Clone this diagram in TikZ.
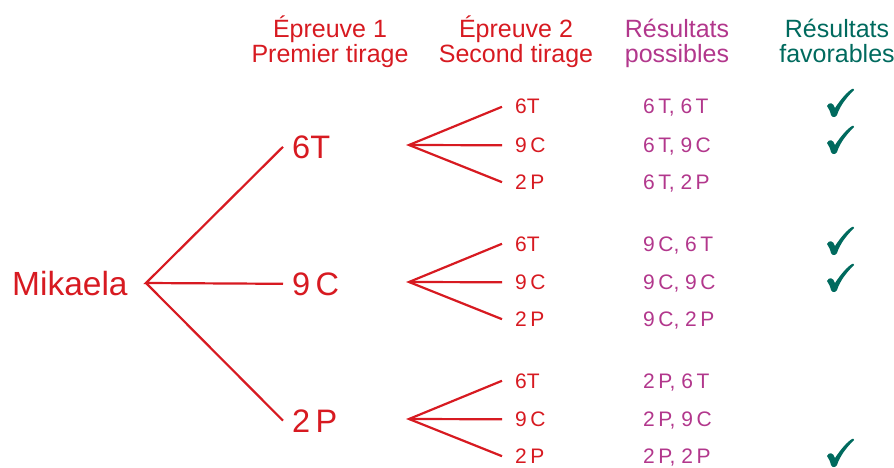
\documentclass[tikz,border=0pt]{standalone}
\usepackage{fontspec}
\setmainfont{Liberation Sans}
\usepackage{tikz}
\definecolor{arbre}{RGB}{215,26,33}
\definecolor{possible}{RGB}{178,55,140}
\definecolor{favorable}{RGB}{0,106,94}
\tikzset{
    branche/.style={draw=arbre, line width=2.2pt},
    tete/.style={anchor=base, inner sep=0pt, font=\fontsize{25}{25}\selectfont},
    tirage/.style={anchor=base west, text=arbre, inner ysep=0pt, inner xsep=9pt, font=\fontsize{32.5}{32.5}\selectfont},
    issue/.style={anchor=base west, text=arbre, inner ysep=0pt, inner xsep=13pt, font=\fontsize{21}{21}\selectfont},
    resultat/.style={anchor=base west, text=possible, inner sep=0pt, font=\fontsize{21}{21}\selectfont},
    coche/.pic={
        \fill[favorable] (-13,3) .. controls (-11,-1) and (-7,-1) .. (-5,5)
            .. controls (1,-4) and (7,-11) .. (12,-14)
            .. controls (13,-14.6) and (14.5,-14) .. (14,-13)
            .. controls (6,-5) and (0,3) .. (-3,12)
            .. controls (-4,14.5) and (-8,15) .. (-9,12)
            .. controls (-10,8) and (-11,6) .. cycle;
    }
}

\begin{document}
\begin{tikzpicture}[x=1pt, y=-1pt]
\useasboundingbox (0,0) rectangle (894,468);

% en-tetes des colonnes
\node[tete, text=arbre] (h1a) at (330,38) {Épreuve 1};
\node[tete, text=arbre] (h1b) at (330,63) {Premier tirage};
\node[tete, text=arbre] (h2a) at (516,38) {Épreuve 2};
\node[tete, text=arbre] (h2b) at (516,63) {Second tirage};
\node[tete, text=possible] (h3a) at (677,38) {Résultats};
\node[tete, text=possible] (h3b) at (677,63) {possibles};
\node[tete, text=favorable] (h4a) at (837,38) {Résultats};
\node[tete, text=favorable] (h4b) at (837,63) {favorables};

% racine et premier tirage
\node[anchor=base west, inner sep=0pt, text=arbre, font=\fontsize{33.5}{33.5}\selectfont] (mik) at (12,295) {Mikaela};
\coordinate (r) at (146,283);
\node[tirage] (t6T) at (283,158) {6T};
\node[tirage] (t9C) at (283,295) {9\,C};
\node[tirage] (t2P) at (283,432) {2\,P};
\draw[branche] (t6T.west) -- (r) -- (t9C.west);
\draw[branche] (r) -- (t2P.west);

% second tirage et resultats possibles
\foreach \p/\y/\nom in {6T/146/6\,T, 9C/283/9\,C, 2P/420/2\,P} {
    \coordinate (v\p) at (409,\y-1);
    \node[issue] (s\p a) at (502,\y-32) {6T};
    \node[issue] (s\p b) at (502,\y+6.5) {9\,C};
    \node[issue] (s\p c) at (502,\y+43.5) {2\,P};
    \draw[branche] (s\p a.west) -- (v\p) -- (s\p c.west);
    \draw[branche] (v\p) -- (s\p b.west);
    \node[resultat] (r\p a) at (643,\y-32) {\nom, 6\,T};
    \node[resultat] (r\p b) at (643,\y+6.5) {\nom, 9\,C};
    \node[resultat] (r\p c) at (643,\y+43.5) {\nom, 2\,P};
}

% resultats favorables
\pic at (840,103) {coche};
\pic at (840,140) {coche};
\pic at (840,241) {coche};
\pic at (840,278) {coche};
\pic at (840,453) {coche};
\end{tikzpicture}
\end{document}
